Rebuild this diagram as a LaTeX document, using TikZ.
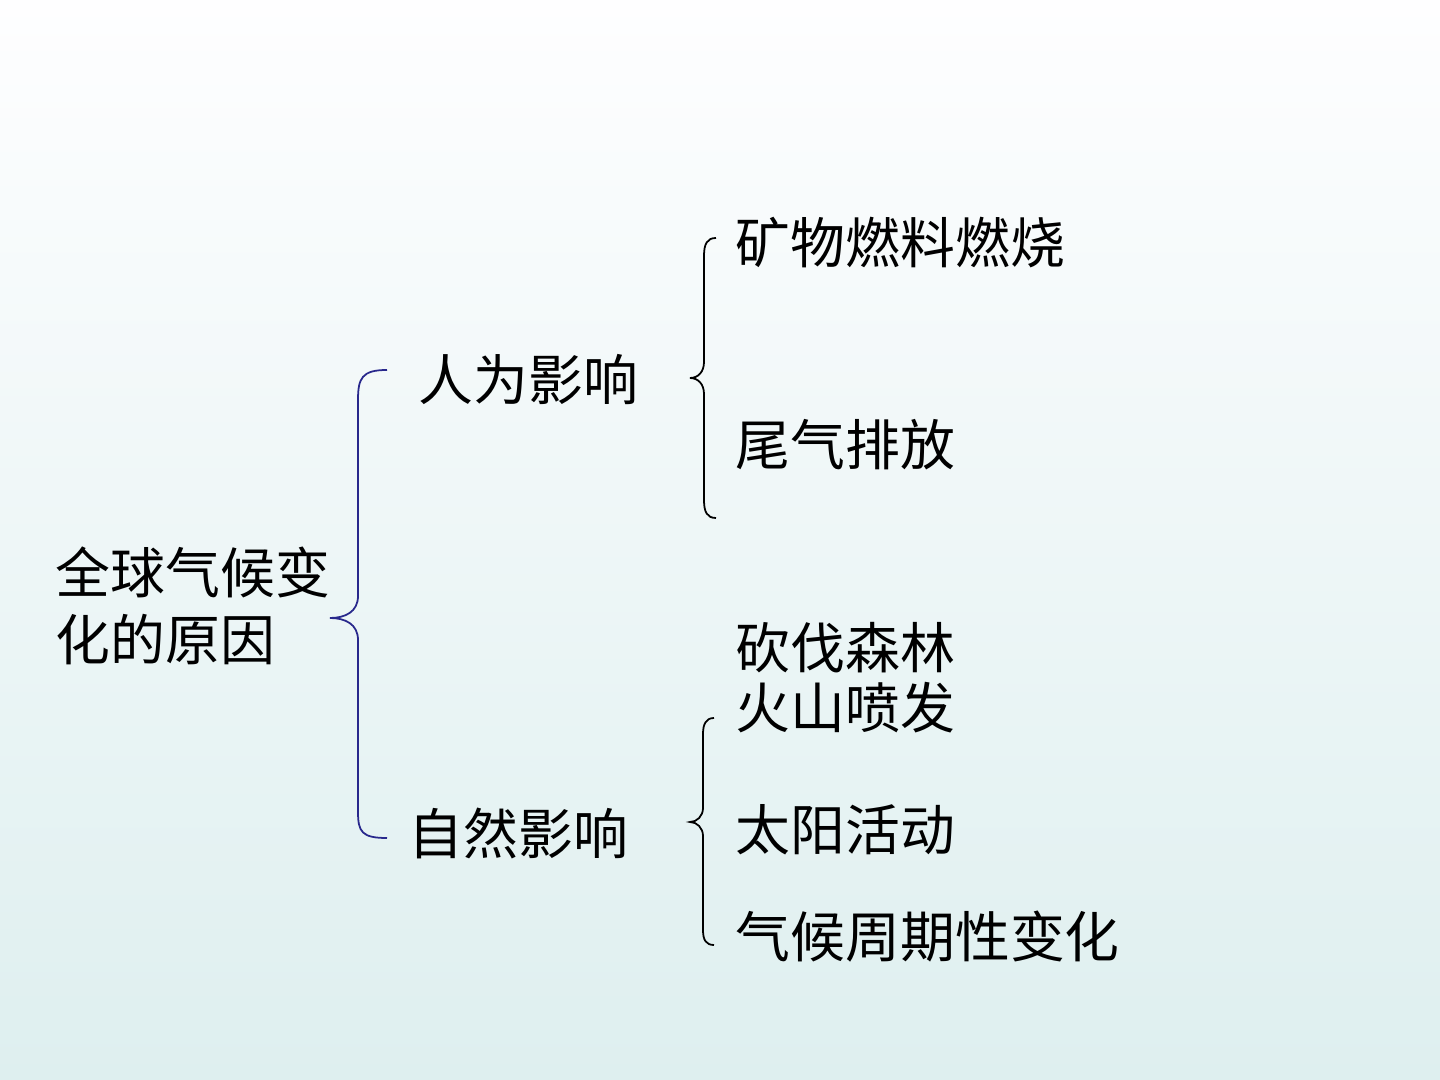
\documentclass[tikz,border=0pt]{standalone}
\usepackage{fontspec}
\newfontfamily\cjk{Noto Sans CJK SC}
\definecolor{bgtop}{RGB}{254,254,255}
\definecolor{bgbot}{RGB}{222,239,239}
\definecolor{bracecol}{RGB}{40,40,140}
\begin{document}
\begin{tikzpicture}[x=0.01cm,y=-0.01cm,
	txt/.style={anchor=west,inner sep=0pt,font=\cjk\fontsize{15.6}{19}\selectfont},
	brace/.style={line width=0.5pt}]
	
	\shade[top color=bgtop,bottom color=bgbot] (0,0) rectangle (1440,1080);
	\useasboundingbox (0,0) rectangle (1440,1080);
	
	\node[txt,align=left] (cause) at (55,606) {全球气候变\\化的原因};
	\node[txt] (human) at (418,380) {人为影响};
	\node[txt] (nature) at (408,833) {自然影响};
	
	\node[txt] (fuel) at (735,243) {矿物燃料燃烧};
	\node[txt] (exhaust) at (735,445) {尾气排放};
	\node[txt] (forest) at (735,648) {砍伐森林};
	\node[txt] (volcano) at (735,708) {火山喷发};
	\node[txt] (sun) at (735,830) {太阳活动};
	\node[txt] (cycle) at (735,937) {气候周期性变化};
	
	% braces
	\draw[brace,draw=bracecol] (387,370) .. controls (362,370) and (358,378) .. (358,400)
		-- (358,596) .. controls (358,612) and (345,618) .. (330,618)
		.. controls (345,618) and (358,624) .. (358,640)
		-- (358,812) .. controls (358,832) and (362,838) .. (387,838);
	\draw[brace] (716,238) .. controls (707,238) and (704,244) .. (704,256)
		-- (704,362) .. controls (704,372) and (698,378) .. (690,378)
		.. controls (698,378) and (704,384) .. (704,394)
		-- (704,500) .. controls (704,512) and (707,518) .. (716,518);
	\draw[brace] (714,718) .. controls (706,718) and (703,724) .. (703,734)
		-- (703,808) .. controls (703,816) and (697,822) .. (690,822)
		.. controls (697,822) and (703,828) .. (703,836)
		-- (703,930) .. controls (703,940) and (706,945) .. (714,945);
\end{tikzpicture}
\end{document}
